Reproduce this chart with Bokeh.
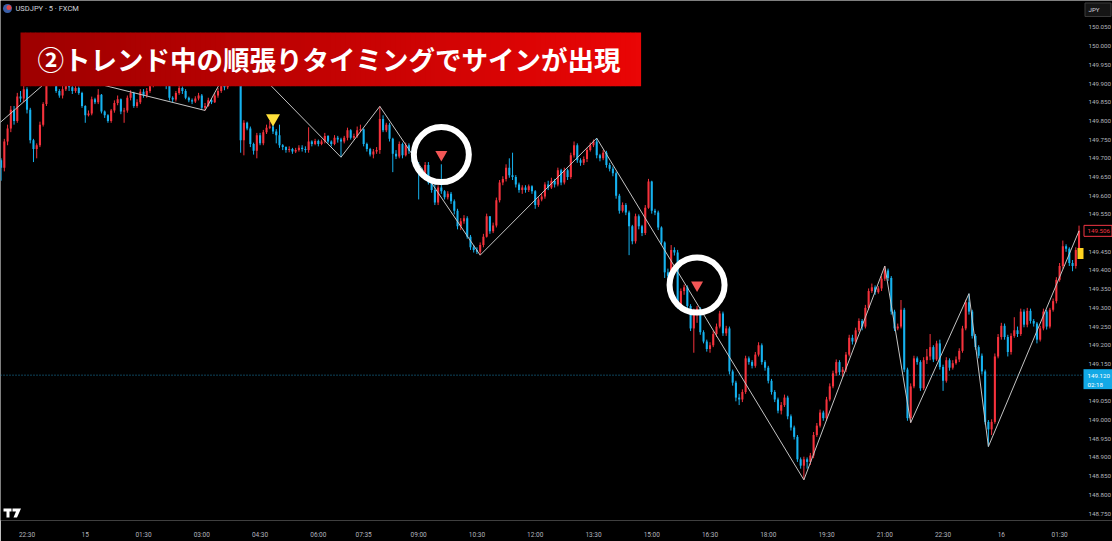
from bokeh.plotting import figure
from bokeh.models import Range1d, FixedTicker, Label
from bokeh.core.properties import value
from bokeh.embed import file_html
from bokeh.resources import INLINE

# ---------------- data (USDJPY 5-min, FXCM) ----------------
first_open = 149.695
close = [
    149.675, 149.745, 149.780, 149.830, 149.800, 149.865, 149.860, 149.885, 149.830, 149.748,
    149.725, 149.735, 149.790, 149.845, 149.900, 149.915, 149.920, 149.880, 149.868, 149.885,
    149.900, 149.890, 149.880, 149.888, 149.875, 149.840, 149.815, 149.820, 149.858, 149.850,
    149.870, 149.825, 149.815, 149.800, 149.828, 149.848, 149.858, 149.825, 149.828, 149.862,
    149.875, 149.840, 149.850, 149.878, 149.868, 149.880, 149.895, 149.910, 149.905, 149.918,
    149.905, 149.895, 149.862, 149.857, 149.875, 149.888, 149.880, 149.862, 149.855, 149.852,
    149.860, 149.868, 149.835, 149.840, 149.855, 149.850, 149.868, 149.880, 149.895, 149.890,
    149.905, 149.940, 149.965, 149.950, 149.748, 149.795, 149.780, 149.738, 149.720, 149.762,
    149.740, 149.770, 149.782, 149.785, 149.772, 149.762, 149.735, 149.730, 149.722, 149.725,
    149.718, 149.722, 149.728, 149.725, 149.722, 149.745, 149.738, 149.746, 149.738, 149.745,
    149.760, 149.745, 149.738, 149.755, 149.750, 149.745, 149.755, 149.775, 149.755, 149.760,
    149.775, 149.778, 149.738, 149.725, 149.710, 149.718, 149.722, 149.805, 149.775, 149.790,
    149.752, 149.712, 149.705, 149.738, 149.708, 149.735, 149.720, 149.700, 149.680, 149.670,
    149.655, 149.682, 149.635, 149.615, 149.582, 149.622, 149.612, 149.596, 149.605, 149.585,
    149.560, 149.518, 149.532, 149.540, 149.490, 149.462, 149.455, 149.450, 149.468, 149.490,
    149.545, 149.505, 149.520, 149.588, 149.635, 149.645, 149.675, 149.655, 149.650, 149.630,
    149.615, 149.622, 149.615, 149.625, 149.612, 149.575, 149.590, 149.598, 149.630, 149.622,
    149.640, 149.630, 149.668, 149.635, 149.668, 149.650, 149.708, 149.735, 149.695, 149.688,
    149.698, 149.722, 149.735, 149.745, 149.708, 149.700, 149.715, 149.682, 149.672, 149.660,
    149.600, 149.560, 149.575, 149.555, 149.518, 149.478, 149.545, 149.518, 149.500, 149.568,
    149.638, 149.560, 149.555, 149.515, 149.475, 149.395, 149.385, 149.455, 149.448, 149.305,
    149.345, 149.355, 149.305, 149.245, 149.290, 149.298, 149.235, 149.210, 149.190, 149.200,
    149.230, 149.250, 149.285, 149.232, 149.245, 149.130, 149.100, 149.060, 149.055, 149.075,
    149.165, 149.155, 149.145, 149.175, 149.200, 149.155, 149.140, 149.105, 149.075, 149.055,
    149.025, 149.040, 149.060, 149.010, 148.980, 148.955, 148.895, 148.878, 148.895, 148.888,
    148.905, 148.960, 148.985, 149.020, 149.005, 149.055, 149.090, 149.125, 149.155, 149.128,
    149.135, 149.175, 149.220, 149.210, 149.240, 149.265, 149.250, 149.300, 149.345, 149.355,
    149.342, 149.352, 149.378, 149.400, 149.380, 149.290, 149.245, 149.250, 149.295, 149.135,
    149.005, 149.090, 149.165, 149.155, 149.085, 149.160, 149.170, 149.195, 149.162, 149.205,
    149.142, 149.105, 149.160, 149.140, 149.152, 149.162, 149.185, 149.245, 149.315, 149.290,
    149.225, 149.195, 149.172, 149.130, 148.995, 148.975, 148.995, 149.170, 149.222, 149.252,
    149.222, 149.182, 149.225, 149.240, 149.230, 149.290, 149.255, 149.292, 149.265, 149.258,
    149.215, 149.245, 149.290, 149.250, 149.295, 149.318, 149.375, 149.412, 149.465, 149.458,
    149.420, 149.412, 149.455, 149.506,
]
high = [
    149.700, 149.752, 149.790, 149.840, 149.840, 149.875, 149.880, 149.895, 149.890, 149.835,
    149.752, 149.740, 149.798, 149.850, 149.910, 149.922, 149.925, 149.927, 149.885, 149.900,
    149.915, 149.905, 149.900, 149.895, 149.892, 149.878, 149.842, 149.828, 149.865, 149.862,
    149.885, 149.872, 149.828, 149.818, 149.832, 149.855, 149.868, 149.860, 149.835, 149.868,
    149.882, 149.878, 149.858, 149.885, 149.885, 149.888, 149.902, 149.918, 149.915, 149.925,
    149.920, 149.910, 149.900, 149.866, 149.880, 149.895, 149.892, 149.885, 149.865, 149.860,
    149.866, 149.875, 149.872, 149.848, 149.862, 149.860, 149.875, 149.888, 149.900, 149.900,
    149.912, 149.950, 149.975, 149.986, 149.950, 149.802, 149.798, 149.785, 149.742, 149.768,
    149.768, 149.776, 149.790, 149.800, 149.798, 149.778, 149.790, 149.738, 149.732, 149.732,
    149.728, 149.728, 149.735, 149.735, 149.732, 149.783, 149.748, 149.752, 149.750, 149.750,
    149.768, 149.762, 149.748, 149.762, 149.760, 149.755, 149.760, 149.782, 149.778, 149.766,
    149.785, 149.790, 149.780, 149.742, 149.728, 149.725, 149.730, 149.839, 149.815, 149.795,
    149.795, 149.755, 149.722, 149.745, 149.742, 149.742, 149.740, 149.722, 149.705, 149.690,
    149.675, 149.690, 149.690, 149.638, 149.630, 149.628, 149.684, 149.615, 149.612, 149.610,
    149.590, 149.565, 149.540, 149.548, 149.545, 149.495, 149.468, 149.462, 149.475, 149.498,
    149.552, 149.545, 149.528, 149.595, 149.642, 149.652, 149.684, 149.700, 149.715, 149.655,
    149.635, 149.628, 149.628, 149.630, 149.628, 149.615, 149.596, 149.605, 149.636, 149.640,
    149.648, 149.645, 149.675, 149.672, 149.675, 149.672, 149.715, 149.745, 149.740, 149.700,
    149.705, 149.728, 149.742, 149.750, 149.754, 149.712, 149.722, 149.720, 149.688, 149.678,
    149.665, 149.605, 149.582, 149.580, 149.560, 149.522, 149.552, 149.550, 149.522, 149.575,
    149.645, 149.640, 149.565, 149.560, 149.518, 149.478, 149.405, 149.468, 149.462, 149.455,
    149.352, 149.362, 149.360, 149.310, 149.298, 149.305, 149.302, 149.240, 149.215, 149.208,
    149.238, 149.258, 149.292, 149.290, 149.252, 149.250, 149.135, 149.105, 149.070, 149.082,
    149.172, 149.170, 149.160, 149.182, 149.208, 149.205, 149.160, 149.145, 149.110, 149.080,
    149.060, 149.048, 149.068, 149.065, 149.015, 148.985, 148.960, 148.900, 148.902, 148.900,
    148.912, 148.968, 148.992, 149.028, 149.025, 149.062, 149.098, 149.132, 149.162, 149.160,
    149.142, 149.182, 149.228, 149.228, 149.247, 149.272, 149.270, 149.308, 149.352, 149.365,
    149.360, 149.358, 149.385, 149.412, 149.405, 149.385, 149.295, 149.258, 149.321, 149.300,
    149.140, 149.098, 149.172, 149.170, 149.160, 149.168, 149.190, 149.230, 149.200, 149.212,
    149.215, 149.148, 149.168, 149.165, 149.160, 149.170, 149.192, 149.252, 149.322, 149.338,
    149.295, 149.230, 149.200, 149.178, 149.135, 149.000, 149.002, 149.178, 149.230, 149.260,
    149.258, 149.228, 149.232, 149.275, 149.250, 149.298, 149.296, 149.300, 149.298, 149.270,
    149.262, 149.252, 149.298, 149.295, 149.300, 149.325, 149.382, 149.420, 149.480, 149.470,
    149.462, 149.428, 149.462, 149.520,
]
low = [
    149.640, 149.665, 149.735, 149.770, 149.790, 149.795, 149.850, 149.850, 149.820, 149.740,
    149.690, 149.700, 149.730, 149.785, 149.840, 149.895, 149.905, 149.875, 149.862, 149.860,
    149.880, 149.880, 149.872, 149.875, 149.870, 149.835, 149.795, 149.812, 149.815, 149.845,
    149.845, 149.820, 149.808, 149.795, 149.795, 149.822, 149.842, 149.818, 149.795, 149.822,
    149.855, 149.835, 149.835, 149.845, 149.862, 149.862, 149.875, 149.890, 149.895, 149.900,
    149.895, 149.885, 149.855, 149.850, 149.852, 149.870, 149.872, 149.858, 149.850, 149.845,
    149.848, 149.855, 149.830, 149.828, 149.838, 149.845, 149.848, 149.862, 149.875, 149.882,
    149.885, 149.900, 149.935, 149.945, 149.715, 149.708, 149.775, 149.730, 149.710, 149.700,
    149.735, 149.735, 149.765, 149.778, 149.765, 149.740, 149.728, 149.722, 149.715, 149.716,
    149.712, 149.714, 149.718, 149.718, 149.715, 149.715, 149.732, 149.735, 149.732, 149.735,
    149.740, 149.740, 149.732, 149.735, 149.742, 149.703, 149.740, 149.748, 149.750, 149.750,
    149.755, 149.770, 149.732, 149.718, 149.705, 149.700, 149.712, 149.712, 149.770, 149.770,
    149.745, 149.663, 149.698, 149.700, 149.700, 149.705, 149.712, 149.690, 149.675, 149.590,
    149.648, 149.650, 149.630, 149.608, 149.575, 149.575, 149.605, 149.590, 149.590, 149.578,
    149.550, 149.510, 149.508, 149.525, 149.485, 149.455, 149.448, 149.444, 149.441, 149.462,
    149.488, 149.498, 149.500, 149.515, 149.582, 149.628, 149.638, 149.648, 149.642, 149.622,
    149.608, 149.605, 149.608, 149.610, 149.605, 149.565, 149.570, 149.585, 149.592, 149.615,
    149.618, 149.622, 149.625, 149.628, 149.630, 149.642, 149.645, 149.702, 149.688, 149.680,
    149.682, 149.690, 149.718, 149.730, 149.700, 149.692, 149.695, 149.675, 149.665, 149.652,
    149.592, 149.552, 149.555, 149.548, 149.441, 149.470, 149.472, 149.510, 149.492, 149.495,
    149.565, 149.552, 149.548, 149.508, 149.468, 149.380, 149.370, 149.380, 149.440, 149.298,
    149.300, 149.335, 149.298, 149.238, 149.180, 149.260, 149.228, 149.205, 149.183, 149.180,
    149.195, 149.222, 149.245, 149.225, 149.225, 149.122, 149.092, 149.050, 149.040, 149.048,
    149.070, 149.148, 149.138, 149.140, 149.170, 149.148, 149.132, 149.098, 149.068, 149.048,
    149.018, 149.015, 149.035, 149.002, 148.972, 148.948, 148.888, 148.870, 148.840, 148.870,
    148.880, 148.898, 148.955, 148.980, 148.998, 148.998, 149.050, 149.085, 149.118, 149.120,
    149.115, 149.128, 149.170, 149.202, 149.205, 149.235, 149.240, 149.245, 149.295, 149.340,
    149.335, 149.338, 149.345, 149.372, 149.372, 149.282, 149.238, 149.240, 149.245, 149.128,
    148.998, 148.993, 149.085, 149.148, 149.078, 149.080, 149.150, 149.160, 149.155, 149.158,
    149.135, 149.078, 149.100, 149.132, 149.135, 149.148, 149.155, 149.180, 149.240, 149.282,
    149.218, 149.188, 149.165, 149.122, 148.988, 148.929, 148.960, 148.990, 149.165, 149.215,
    149.215, 149.170, 149.175, 149.220, 149.222, 149.225, 149.248, 149.248, 149.258, 149.250,
    149.205, 149.210, 149.240, 149.242, 149.245, 149.290, 149.312, 149.370, 149.405, 149.450,
    149.412, 149.398, 149.405, 149.448,
]

# ZigZag pivots (bar index, price)
zz_idx = [-10, 17, 63, 73, 105, 117, 148, 184, 248, 273, 281, 299, 305, 333]
zz_price = [149.722, 149.927, 149.828, 149.986, 149.703, 149.839, 149.441, 149.754,
            148.840, 149.412, 148.993, 149.338, 148.929, 149.506]

# signals
sig_yellow_idx = [84]
sig_yellow_price = [149.807]
sig_red_idx = [136, 215]
sig_red_price = [149.710, 149.361]

price_line = 149.120
price_line_time = "02:18"
last_price = 149.506

time_ticks = [8, 26, 44, 62, 80, 98, 112, 129, 147, 165, 183, 201, 219, 237, 255, 273, 291, 309, 327]
time_labels = ["22:30", "15", "01:30", "03:00", "04:30", "06:00", "07:35", "09:00", "10:30",
               "12:00", "13:30", "15:00", "16:30", "18:00", "19:30", "21:00", "22:30", "16", "01:30"]
price_ticks = [148.75, 148.80, 148.85, 148.90, 148.95, 149.00, 149.05, 149.15, 149.20, 149.25,
               149.30, 149.35, 149.40, 149.45, 149.55, 149.60, 149.65, 149.70, 149.75, 149.80,
               149.85, 149.90, 149.95, 150.00, 150.05]

title_text = "②トレンド中の順張りタイミングでサインが出現"
symbol_text = "USDJPY · 5 · FXCM"
currency_text = "JPY"

# ---------------- layout helpers (pixel -> data, for decorations only) ----------------
W, H = 1112, 541
FRAME_H = 521
CHART_W = 1083                   # right edge of the candle area (price scale begins here)
X0, PX = -0.187, 3.237          # bar index at left edge, px per bar
YTOP, PY = 150.1221, 374.6      # price at top edge, px per 1.0 price
YBOT = YTOP - FRAME_H / PY
SCALE_FONT = "6.2px"


def dx(px):
    return X0 + px / PX


def dy(py):
    return YTOP - py / PY


def ppx(price):
    return (YTOP - price) * PY


UP = "#f5323c"
DOWN = "#16b2ef"
AXIS_TXT = "#b2b5be"

n = len(close)
idx = list(range(n))
opens = [first_open] + close[:-1]
body_top, body_bot, colors = [], [], []
for o, c in zip(opens, close):
    t, b = max(o, c), min(o, c)
    if t - b < 0.0015:
        t = b + 0.0015
    body_top.append(t)
    body_bot.append(b)
    colors.append(UP if c >= o else DOWN)

p = figure(width=W, height=H, x_range=Range1d(X0, dx(W)), y_range=Range1d(YBOT, YTOP),
           y_axis_location=None, toolbar_location=None, output_backend="svg",
           background_fill_color="#000000", border_fill_color="#000000", outline_line_color=None,
           min_border_left=0, min_border_top=0, min_border_right=0,
           min_border_bottom=H - FRAME_H)
p.grid.visible = False

# time axis
p.xaxis.ticker = FixedTicker(ticks=time_ticks)
p.xaxis.major_label_overrides = {t: l for t, l in zip(time_ticks, time_labels)}
ax = p.xaxis[0]
ax.axis_line_color = None
ax.major_tick_line_color = None
ax.minor_tick_line_color = None
ax.major_label_text_color = AXIS_TXT
ax.major_label_text_font = "Roboto"
ax.major_label_text_font_size = "6.5px"
ax.major_label_standoff = 4

# price scale labels (placed with the y scale)
p.text(x=[dx(1088)] * len(price_ticks), y=price_ticks, text=["%.3f" % v for v in price_ticks],
       text_font=value("Roboto"), text_font_size=SCALE_FONT, text_color=AXIS_TXT,
       text_baseline="middle", text_align="left")

# dotted price line
p.segment(x0=[X0], y0=[price_line], x1=[dx(CHART_W)], y1=[price_line],
          line_color="#1a86b5", line_dash="1 2", line_width=1)

# candles
p.segment(x0=idx, y0=low, x1=idx, y1=high, line_color=colors, line_width=1)
p.vbar(x=idx, width=0.64, top=body_top, bottom=body_bot, fill_color=colors, line_color=None)

# zigzag
p.line(zz_idx, zz_price, line_color="#c4c4c4", line_width=1)

# banner with gradient
n_strips = 124
bl, br, bt, bb, bc = [], [], [], [], []
for k in range(n_strips):
    t = k / (n_strips - 1)
    r = int(158 + (234 - 158) * t)
    g = int(0 + 6 * t)
    bl.append(dx(20 + 5 * k))
    br.append(dx(25 + 5 * k + 0.6))
    bt.append(dy(32))
    bb.append(dy(86))
    bc.append("#%02x%02x%02x" % (r, g, g))
p.quad(left=bl, right=br, top=bt, bottom=bb, fill_color=bc, line_color=None)
p.add_layout(Label(x=dx(37), y=dy(58), text=title_text, text_font="Noto Sans CJK JP",
                   text_font_style="bold", text_font_size="26.5px", text_color="#ffffff",
                   text_baseline="middle", text_align="left"))

# signals
p.scatter(sig_yellow_idx, sig_yellow_price, marker="inverted_triangle", size=14,
          fill_color="#ffe03a", line_color=None)
p.scatter(sig_red_idx, sig_red_price, marker="inverted_triangle", size=12,
          fill_color="#f25656", line_color=None)
p.scatter(sig_red_idx, sig_red_price, marker="circle", size=55, fill_color=None,
          line_color="#ffffff", line_width=6)

# header
p.scatter([dx(7)], [dy(8)], marker="circle", size=9, fill_color="#3b5fa8", line_color=None)
p.scatter([dx(8.5)], [dy(7)], marker="circle", size=5, fill_color="#e04848", line_color=None)
p.add_layout(Label(x=dx(15), y=dy(8.5), text=symbol_text, text_font="Roboto",
                   text_font_size="7.5px", text_color="#d1d4dc", text_baseline="middle"))

# TradingView logo
p.patch([dx(v) for v in [3, 11, 11, 9, 9, 6, 6, 3]],
        [dy(v) for v in [509, 509, 512, 512, 518, 518, 512, 512]],
        fill_color="#ffffff", line_color=None)
p.patch([dx(v) for v in [12, 20.5, 16.5, 13, 15.5, 12]],
        [dy(v) for v in [509, 509, 518, 518, 512, 512]],
        fill_color="#ffffff", line_color=None)

# yellow marker at right edge of the candle area
p.quad(left=[dx(1077)], right=[dx(CHART_W)], top=[dy(248)], bottom=[dy(259)],
       fill_color="#ffd21f", line_color=None)

# last price label (red outline)
lp = ppx(last_price)
p.quad(left=[dx(CHART_W + 0.5)], right=[dx(W - 0.5)], top=[dy(lp - 5.5)], bottom=[dy(lp + 5.5)],
       fill_color="#000000", line_color="#f23645", line_width=1)
p.text(x=[dx(1087)], y=[last_price], text=["%.3f" % last_price], text_font=value("Roboto"),
       text_font_size=SCALE_FONT, text_color="#f23645", text_baseline="middle", text_align="left")

# price line label (cyan box, two lines)
pl = ppx(price_line)
p.quad(left=[dx(CHART_W)], right=[dx(W)], top=[dy(pl - 6)], bottom=[dy(pl + 14)],
       fill_color="#12a9e6", line_color=None)
p.text(x=[dx(1087), dx(1087)], y=[dy(pl + 1), dy(pl + 9.5)],
       text=["%.3f" % price_line, price_line_time], text_font=value("Roboto"),
       text_font_size=SCALE_FONT, text_color="#ffffff", text_baseline="middle", text_align="left")

# currency button
p.quad(left=[dx(1084.5)], right=[dx(1110.5)], top=[dy(2.5)], bottom=[dy(16)],
       fill_color="#151515", line_color="#3c3c3c", line_width=1)
p.text(x=[dx(1088)], y=[dy(9.3)], text=[currency_text], text_font=value("Roboto"),
       text_font_size=SCALE_FONT, text_color="#d1d4dc", text_baseline="middle", text_align="left")

open("out.html", "w").write(file_html(p, INLINE))
